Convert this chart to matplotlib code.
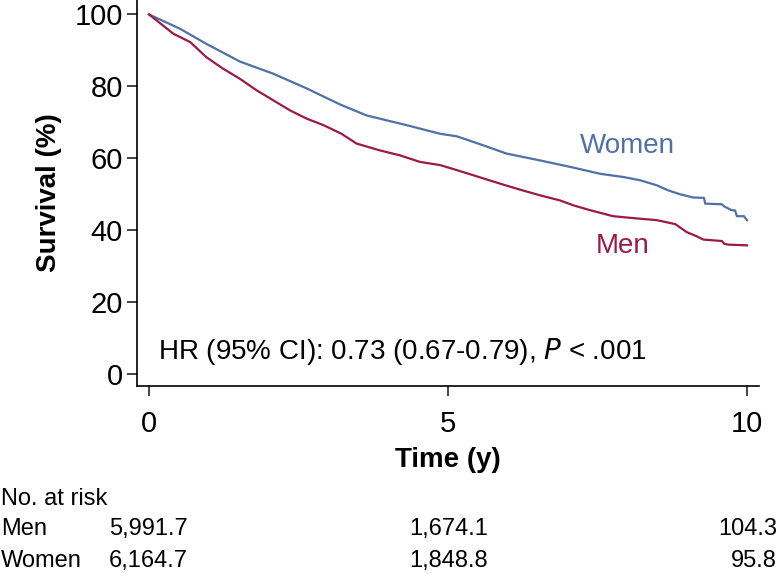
import numpy as np
import matplotlib
matplotlib.use('Agg')
import matplotlib.pyplot as plt

plt.rcParams['font.family'] = ['Liberation Sans', 'DejaVu Sans']

# survival curves (time in years, survival in %)
t_women = [0, 0.52, 0.96, 1.52, 2.08, 2.64, 3.19, 3.64, 4.31, 4.87, 5.15, 5.59, 5.98,
           6.54, 7.10, 7.54, 7.93, 8.21, 8.49, 8.68, 8.88, 9.10, 9.28, 9.30, 9.58,
           9.62, 9.74, 9.80, 9.83, 9.95, 9.97, 10.0]
s_women = [100, 96.0, 91.8, 86.9, 83.5, 79.4, 75.0, 71.9, 69.2, 66.8, 66.1, 63.6, 61.3,
           59.4, 57.4, 55.7, 54.8, 53.9, 52.5, 51.1, 50.0, 49.1, 49.0, 47.4, 47.2,
           46.6, 45.6, 45.5, 43.9, 43.9, 43.4, 42.8]

t_men = [0, 0.41, 0.69, 0.96, 1.24, 1.52, 1.80, 2.08, 2.36, 2.64, 2.92, 3.22, 3.47,
         3.86, 4.20, 4.53, 4.87, 5.15, 5.42, 5.65, 5.90, 6.20, 6.54, 6.87, 7.10,
         7.37, 7.76, 8.21, 8.49, 8.80, 8.99, 9.16, 9.27, 9.58, 9.62, 9.69, 10.0]
s_men = [100, 94.6, 92.3, 88.1, 84.9, 82.1, 78.9, 76.1, 73.3, 71.0, 69.2, 66.8, 64.1,
         62.2, 60.8, 59.0, 58.1, 56.7, 55.3, 54.1, 52.8, 51.3, 49.7, 48.3, 46.9,
         45.6, 43.9, 43.2, 42.8, 41.7, 39.5, 38.3, 37.4, 37.0, 36.2, 36.0, 35.8]

risk_groups = ['Men', 'Women']
risk_men = ['5,991.7', '1,674.1', '104.3']
risk_women = ['6,164.7', '1,848.8', '95.8']

c_women = '#4f71a6'
c_men = '#9c1a45'

W, H = 777, 580
fig = plt.figure(figsize=(W / 100, H / 100), dpi=100)
ax = fig.add_axes([137 / W, 1 - 386 / H, (759 - 137) / W, 386 / H])

ax.plot(t_women, s_women, color=c_women, lw=1.6)
ax.plot(t_men, s_men, color=c_men, lw=1.6)

ax.set_xlim(-0.2, 10.2)
ax.set_ylim(-3.3, 104)
ax.set_xticks([0, 5, 10])
ax.set_yticks([0, 20, 40, 60, 80, 100])
for s in ['top', 'right']:
    ax.spines[s].set_visible(False)
for s in ['left', 'bottom']:
    ax.spines[s].set_linewidth(1.2)
ax.tick_params(axis='both', labelsize=21, width=1.2, length=7, color='#222222')
ax.tick_params(axis='x', pad=10)
ax.tick_params(axis='y', pad=3)

ax.set_xlabel('Time (y)', fontsize=20, fontweight='bold', labelpad=7)
ax.set_ylabel('Survival (%)', fontsize=20, fontweight='bold', labelpad=9)

ax.text(7.2, 63.5, 'Women', color=c_women, fontsize=20, va='center')
ax.text(7.47, 35.5, 'Men', color=c_men, fontsize=20, va='center')
ax.text(0.15, 6.3, 'HR (95% CI): 0.73 (0.67-0.79), $\\it{P}$ < .001', fontsize=20,
        va='center')

# number at risk table
fs = 17
fig.text(1 / W, 1 - 505 / H, 'No. at risk', fontsize=fs, va='baseline')
rows_y = [535, 567]
col_x = [188, 488, 777]
for name, vals, y in zip(risk_groups, [risk_men, risk_women], rows_y):
    fig.text(1 / W, 1 - y / H, name, fontsize=fs, va='baseline')
    for v, x in zip(vals, col_x):
        fig.text(x / W, 1 - y / H, v, fontsize=fs, va='baseline', ha='right')

fig.savefig('out.png', dpi=100)
